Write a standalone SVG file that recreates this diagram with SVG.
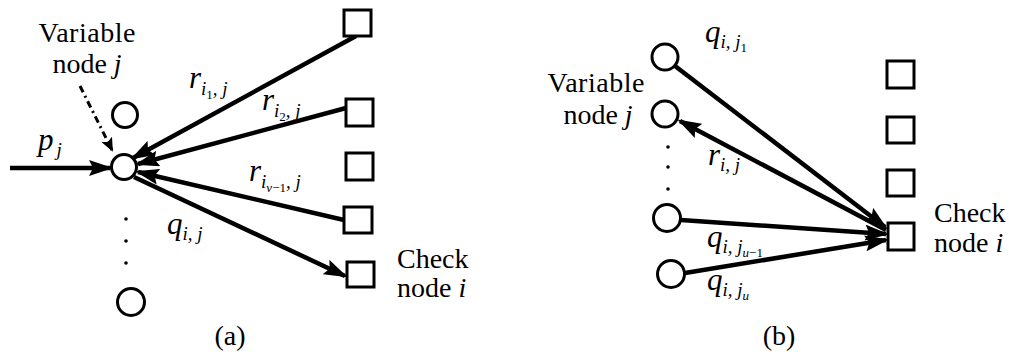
<svg xmlns="http://www.w3.org/2000/svg" width="1009" height="356" viewBox="0 0 1009 356">
  <style>
    text { font-family: 'Liberation Serif', serif; fill: #000; }
    .txt { font-size: 28px; }
    .it { font-style: italic; }
    .m { font-size: 31px; font-style: italic; }
    .s { font-size: 19px; font-style: italic; }
    .ss { font-size: 13px; font-style: normal; }
    .su { font-size: 13px; font-style: italic; }
    .vn { fill: #fff; stroke: #000; stroke-width: 3; }
    .cn { fill: #fff; stroke: #000; stroke-width: 3; }
    .edge { stroke: #000; stroke-width: 4.5; fill: none; }
    .dot { fill: #000; }
  </style>
  <defs>
    <marker id="ah" viewBox="0 0 24 16" refX="21" refY="8" markerWidth="24" markerHeight="16" markerUnits="userSpaceOnUse" orient="auto">
      <path d="M0,0 L24,8 L0,16 L4,8 z" fill="#000"/>
    </marker>
    <marker id="ahs" viewBox="0 0 14 12" refX="12" refY="6" markerWidth="14" markerHeight="12" markerUnits="userSpaceOnUse" orient="auto">
      <path d="M0,0 L14,6 L0,12 L3,6 z" fill="#000"/>
    </marker>
  </defs>

  <!-- connectors -->
  <g id="connectors">
    <!-- panel (a) -->
    <line class="edge" x1="10" y1="168" x2="110" y2="168" marker-end="url(#ah)"/>
    <line x1="80" y1="86" x2="112" y2="150" stroke="#000" stroke-width="3" stroke-dasharray="7 4 2 4" marker-end="url(#ahs)"/>
    <line class="edge" x1="356" y1="36" x2="133" y2="158" marker-end="url(#ah)"/>
    <line class="edge" x1="346" y1="108" x2="138" y2="164" marker-end="url(#ah)"/>
    <line class="edge" x1="344" y1="220" x2="138" y2="172" marker-end="url(#ah)"/>
    <line class="edge" x1="134" y1="177" x2="345" y2="276" marker-end="url(#ah)"/>
    <!-- panel (b) -->
    <line class="edge" x1="675" y1="66" x2="885" y2="227" marker-end="url(#ah)"/>
    <line class="edge" x1="886" y1="230" x2="680" y2="121" marker-end="url(#ah)"/>
    <line class="edge" x1="681" y1="220" x2="886" y2="234" marker-end="url(#ah)"/>
    <line class="edge" x1="685" y1="273" x2="886" y2="240" marker-end="url(#ah)"/>
  </g>

  <!-- panel (a): variable nodes -->
  <g id="a-var-upper"><circle class="vn" cx="125" cy="115" r="12.5"/></g>
  <g id="a-var-j"><circle class="vn" cx="124" cy="167" r="12.5"/></g>
  <g id="a-var-lower"><circle class="vn" cx="131" cy="302" r="13.5"/></g>
  <g id="a-dots">
    <circle class="dot" cx="126" cy="219" r="1.8"/>
    <circle class="dot" cx="126" cy="241" r="1.8"/>
    <circle class="dot" cx="126" cy="263" r="1.8"/>
  </g>

  <!-- panel (a): check nodes -->
  <g id="a-chk-1"><rect class="cn" x="344" y="10" width="27" height="26"/></g>
  <g id="a-chk-2"><rect class="cn" x="346" y="99" width="27" height="27"/></g>
  <g id="a-chk-3"><rect class="cn" x="346" y="153" width="27" height="27"/></g>
  <g id="a-chk-4"><rect class="cn" x="344" y="207" width="28" height="26"/></g>
  <g id="a-chk-i"><rect class="cn" x="347" y="262" width="27" height="25"/></g>

  <!-- panel (a): labels -->
  <g id="a-labels">
    <text class="txt" x="87" y="42" text-anchor="middle" textLength="97">Variable</text>
    <text class="txt" x="87" y="73" text-anchor="middle">node <tspan class="it">j</tspan></text>
    <text class="m" x="38" y="150">p<tspan class="s" dx="3" dy="6">j</tspan></text>
    <text class="m" x="189" y="88">r<tspan class="s" dy="7">i</tspan><tspan class="ss" dy="4">1</tspan><tspan class="s" dy="-4">, j</tspan></text>
    <text class="m" x="262" y="110">r<tspan class="s" dy="7">i</tspan><tspan class="ss" dy="4">2</tspan><tspan class="s" dy="-4">, j</tspan></text>
    <text class="m" x="249" y="181">r<tspan class="s" dy="7">i</tspan><tspan class="su" dy="4">v</tspan><tspan class="ss">−1</tspan><tspan class="s" dy="-4">, j</tspan></text>
    <text class="m" x="167" y="234">q<tspan class="s" dy="6">i, j</tspan></text>
    <text class="txt" x="397" y="268">Check</text>
    <text class="txt" x="397" y="297">node <tspan class="it">i</tspan></text>
    <text class="txt" x="230" y="345" text-anchor="middle">(a)</text>
  </g>

  <!-- panel (b): variable nodes -->
  <g id="b-var-1"><circle class="vn" cx="665" cy="57" r="13"/></g>
  <g id="b-var-j"><circle class="vn" cx="665" cy="114" r="13"/></g>
  <g id="b-dots">
    <circle class="dot" cx="668" cy="147" r="1.8"/>
    <circle class="dot" cx="668" cy="167" r="1.8"/>
    <circle class="dot" cx="668" cy="189" r="1.8"/>
  </g>
  <g id="b-var-u1"><circle class="vn" cx="667" cy="218" r="13.5"/></g>
  <g id="b-var-u"><circle class="vn" cx="671" cy="274" r="13.5"/></g>

  <!-- panel (b): check nodes -->
  <g id="b-chk-1"><rect class="cn" x="887" y="61" width="27" height="27"/></g>
  <g id="b-chk-2"><rect class="cn" x="887" y="117" width="27" height="26"/></g>
  <g id="b-chk-3"><rect class="cn" x="887" y="170" width="27" height="26"/></g>
  <g id="b-chk-i"><rect class="cn" x="888" y="223" width="26" height="27"/></g>

  <!-- panel (b): labels -->
  <g id="b-labels">
    <text class="txt" x="596" y="92" text-anchor="middle" textLength="97">Variable</text>
    <text class="txt" x="598" y="124" text-anchor="middle">node <tspan class="it">j</tspan></text>
    <text class="m" x="705" y="42">q<tspan class="s" dy="6">i, j</tspan><tspan class="ss" dy="4">1</tspan></text>
    <text class="m" x="708" y="165">r<tspan class="s" dy="6">i, j</tspan></text>
    <text class="m" x="707" y="247">q<tspan class="s" dy="6">i, j</tspan><tspan class="su" dy="4">u</tspan><tspan class="ss">−1</tspan></text>
    <text class="m" x="707" y="290">q<tspan class="s" dy="6">i, j</tspan><tspan class="su" dy="4">u</tspan></text>
    <text class="txt" x="934" y="222">Check</text>
    <text class="txt" x="934" y="252">node <tspan class="it">i</tspan></text>
    <text class="txt" x="779" y="345" text-anchor="middle">(b)</text>
  </g>
</svg>
